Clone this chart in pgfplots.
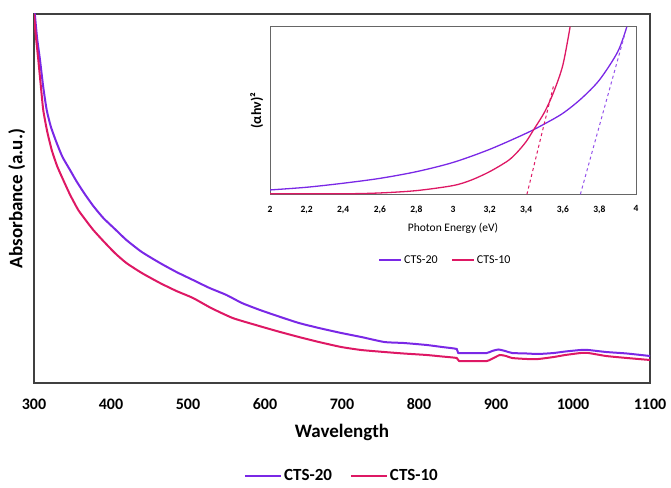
\documentclass[border=0pt]{standalone}
\usepackage{pgfplots}
\pgfplotsset{compat=1.18}
\usepackage{fontspec}
\setmainfont{Carlito}
\definecolor{cpur}{RGB}{122,40,230}
\definecolor{cred}{RGB}{222,24,100}
\definecolor{frm}{RGB}{64,64,64}
\begin{document}
\begin{tikzpicture}
\useasboundingbox (0pt,0pt) rectangle (671pt,487pt);
\begin{axis}[at={(34pt,104pt)}, anchor=south west, scale only axis,
  width=616pt, height=369pt,
  xmin=300, xmax=1100, ymin=0, ymax=369,
  xtick={300,400,500,600,700,800,900,1000,1100}, ytick=\empty,
  major tick length=0pt,
  axis line style={frm, line width=1.5pt},
  /pgf/number format/assume math mode=true,
  /pgf/number format/set thousands separator={},
  xticklabel style={font=\fontsize{16}{17}\selectfont\bfseries, yshift=-12pt},
  xlabel={Wavelength}, ylabel={Absorbance (a.u.)},
  label style={font=\fontsize{19}{20}\selectfont\bfseries},
  xlabel style={at={(axis description cs:0.5,-0.135)}, anchor=center},
  ylabel style={at={(axis description cs:-0.028,0.5)}, anchor=center},
  legend columns=2,
  legend style={at={(0.5,-0.252)}, anchor=center, draw=none, font=\fontsize{17}{18}\selectfont\bfseries,
    /tikz/every even column/.append style={column sep=16pt}},
  legend image code/.code={\draw[#1] (0pt,0pt) -- (36pt,0pt);},
]
\addplot[cpur, line width=2pt, smooth, tension=0.35] coordinates {
(300,369) (301,369) (304,345) (307.8,323) (312,296) (316.5,273) (322,256) (329.5,240) (337,226) (346.8,213) (355,202) (365,190) (377,177) (390,165) (405,154) (420,143) (440,131) (463.6,120) (485,111) (506.5,103) (528,95) (550,88) (570,80) (593.5,73) (620,66) (644,60) (670,55) (699,50) (725,46) (755,41) (780,40) (810,38) (830,36) (849,34) (851,30) (870,30) (888,30) (895,32) (903,33.5) (912,32) (921,30) (940,29.5) (955,29) (975,30) (990,31.5) (1010,33) (1020,33) (1043,31) (1070,29.5) (1100,27)
};
\addlegendentry{CTS-20}
\addplot[cred, line width=2pt, smooth, tension=0.35] coordinates {
(300,369) (302,350) (305.6,323) (309,296) (312,273) (317,252) (323,233) (330,217) (338,203) (347,188) (357.5,173) (367,163) (377,153) (390,142) (405,130) (420,120) (440,110) (463.6,100) (485,92) (506.5,85) (530,75) (558,65) (588,58) (615,52) (644,46) (670,41) (699,36) (725,33) (755,31) (780,29.5) (810,28) (830,26.5) (849,25) (852,22) (870,22) (888,22) (897,25) (905,28) (913,27) (921,25) (940,24) (955,24) (975,26) (990,28) (1010,30) (1020,30) (1043,27) (1070,25) (1100,23)
};
\addlegendentry{CTS-10}
\end{axis}
\begin{axis}[at={(270pt,292.7pt)}, anchor=south west, scale only axis,
  width=366pt, height=167.6pt,
  xmin=2, xmax=4, ymin=0, ymax=100,
  xtick={2,2.2,2.4,2.6,2.8,3,3.2,3.4,3.6,3.8,4}, ytick=\empty,
  major tick length=0pt,
  axis line style={black!60, line width=1pt},
  /pgf/number format/assume math mode=true,
  /pgf/number format/use comma,
  xticklabel style={font=\fontsize{9.5}{10}\selectfont\bfseries, yshift=-8pt},
  xlabel={Photon Energy (eV)}, ylabel={(αhν)²},
  xlabel style={font=\fontsize{11.5}{12}\selectfont, at={(axis description cs:0.5,-0.205)}, anchor=center},
  ylabel style={font=\fontsize{14}{15}\selectfont\bfseries, at={(axis description cs:-0.036,0.5)}, anchor=center},
  legend columns=2,
  legend style={at={(0.48,-0.392)}, anchor=center, draw=none, font=\fontsize{12}{13}\selectfont,
    /tikz/every even column/.append style={column sep=12pt}},
  legend image code/.code={\draw[#1] (0pt,0pt) -- (22pt,0pt);},
]
\addplot[cpur, line width=1.3pt, smooth] coordinates {
(2,2.6) (2.2,4.2) (2.4,6.6) (2.6,9.5) (2.8,13.5) (3.0,19) (3.2,26.8) (3.4,36.4) (3.5,42) (3.6,48.3) (3.7,57) (3.8,68.2) (3.9,85) (3.95,100)
};
\addlegendentry{CTS-20}
\addplot[cred, line width=1.3pt, smooth] coordinates {
(2,0.3) (2.4,0.3) (2.6,0.8) (2.8,2.2) (3.0,5.2) (3.1,8.5) (3.2,13.5) (3.3,20) (3.35,25) (3.4,31.5) (3.44,38.4) (3.5,49) (3.55,61) (3.6,77) (3.64,100)
};
\addlegendentry{CTS-10}
\addplot[cred, line width=1pt, dashed, forget plot] coordinates {(3.404,0) (3.55,65)};
\addplot[cpur!80, line width=1pt, dashed, forget plot] coordinates {(3.696,0) (3.94,96)};
\end{axis}
\end{tikzpicture}
\end{document}
